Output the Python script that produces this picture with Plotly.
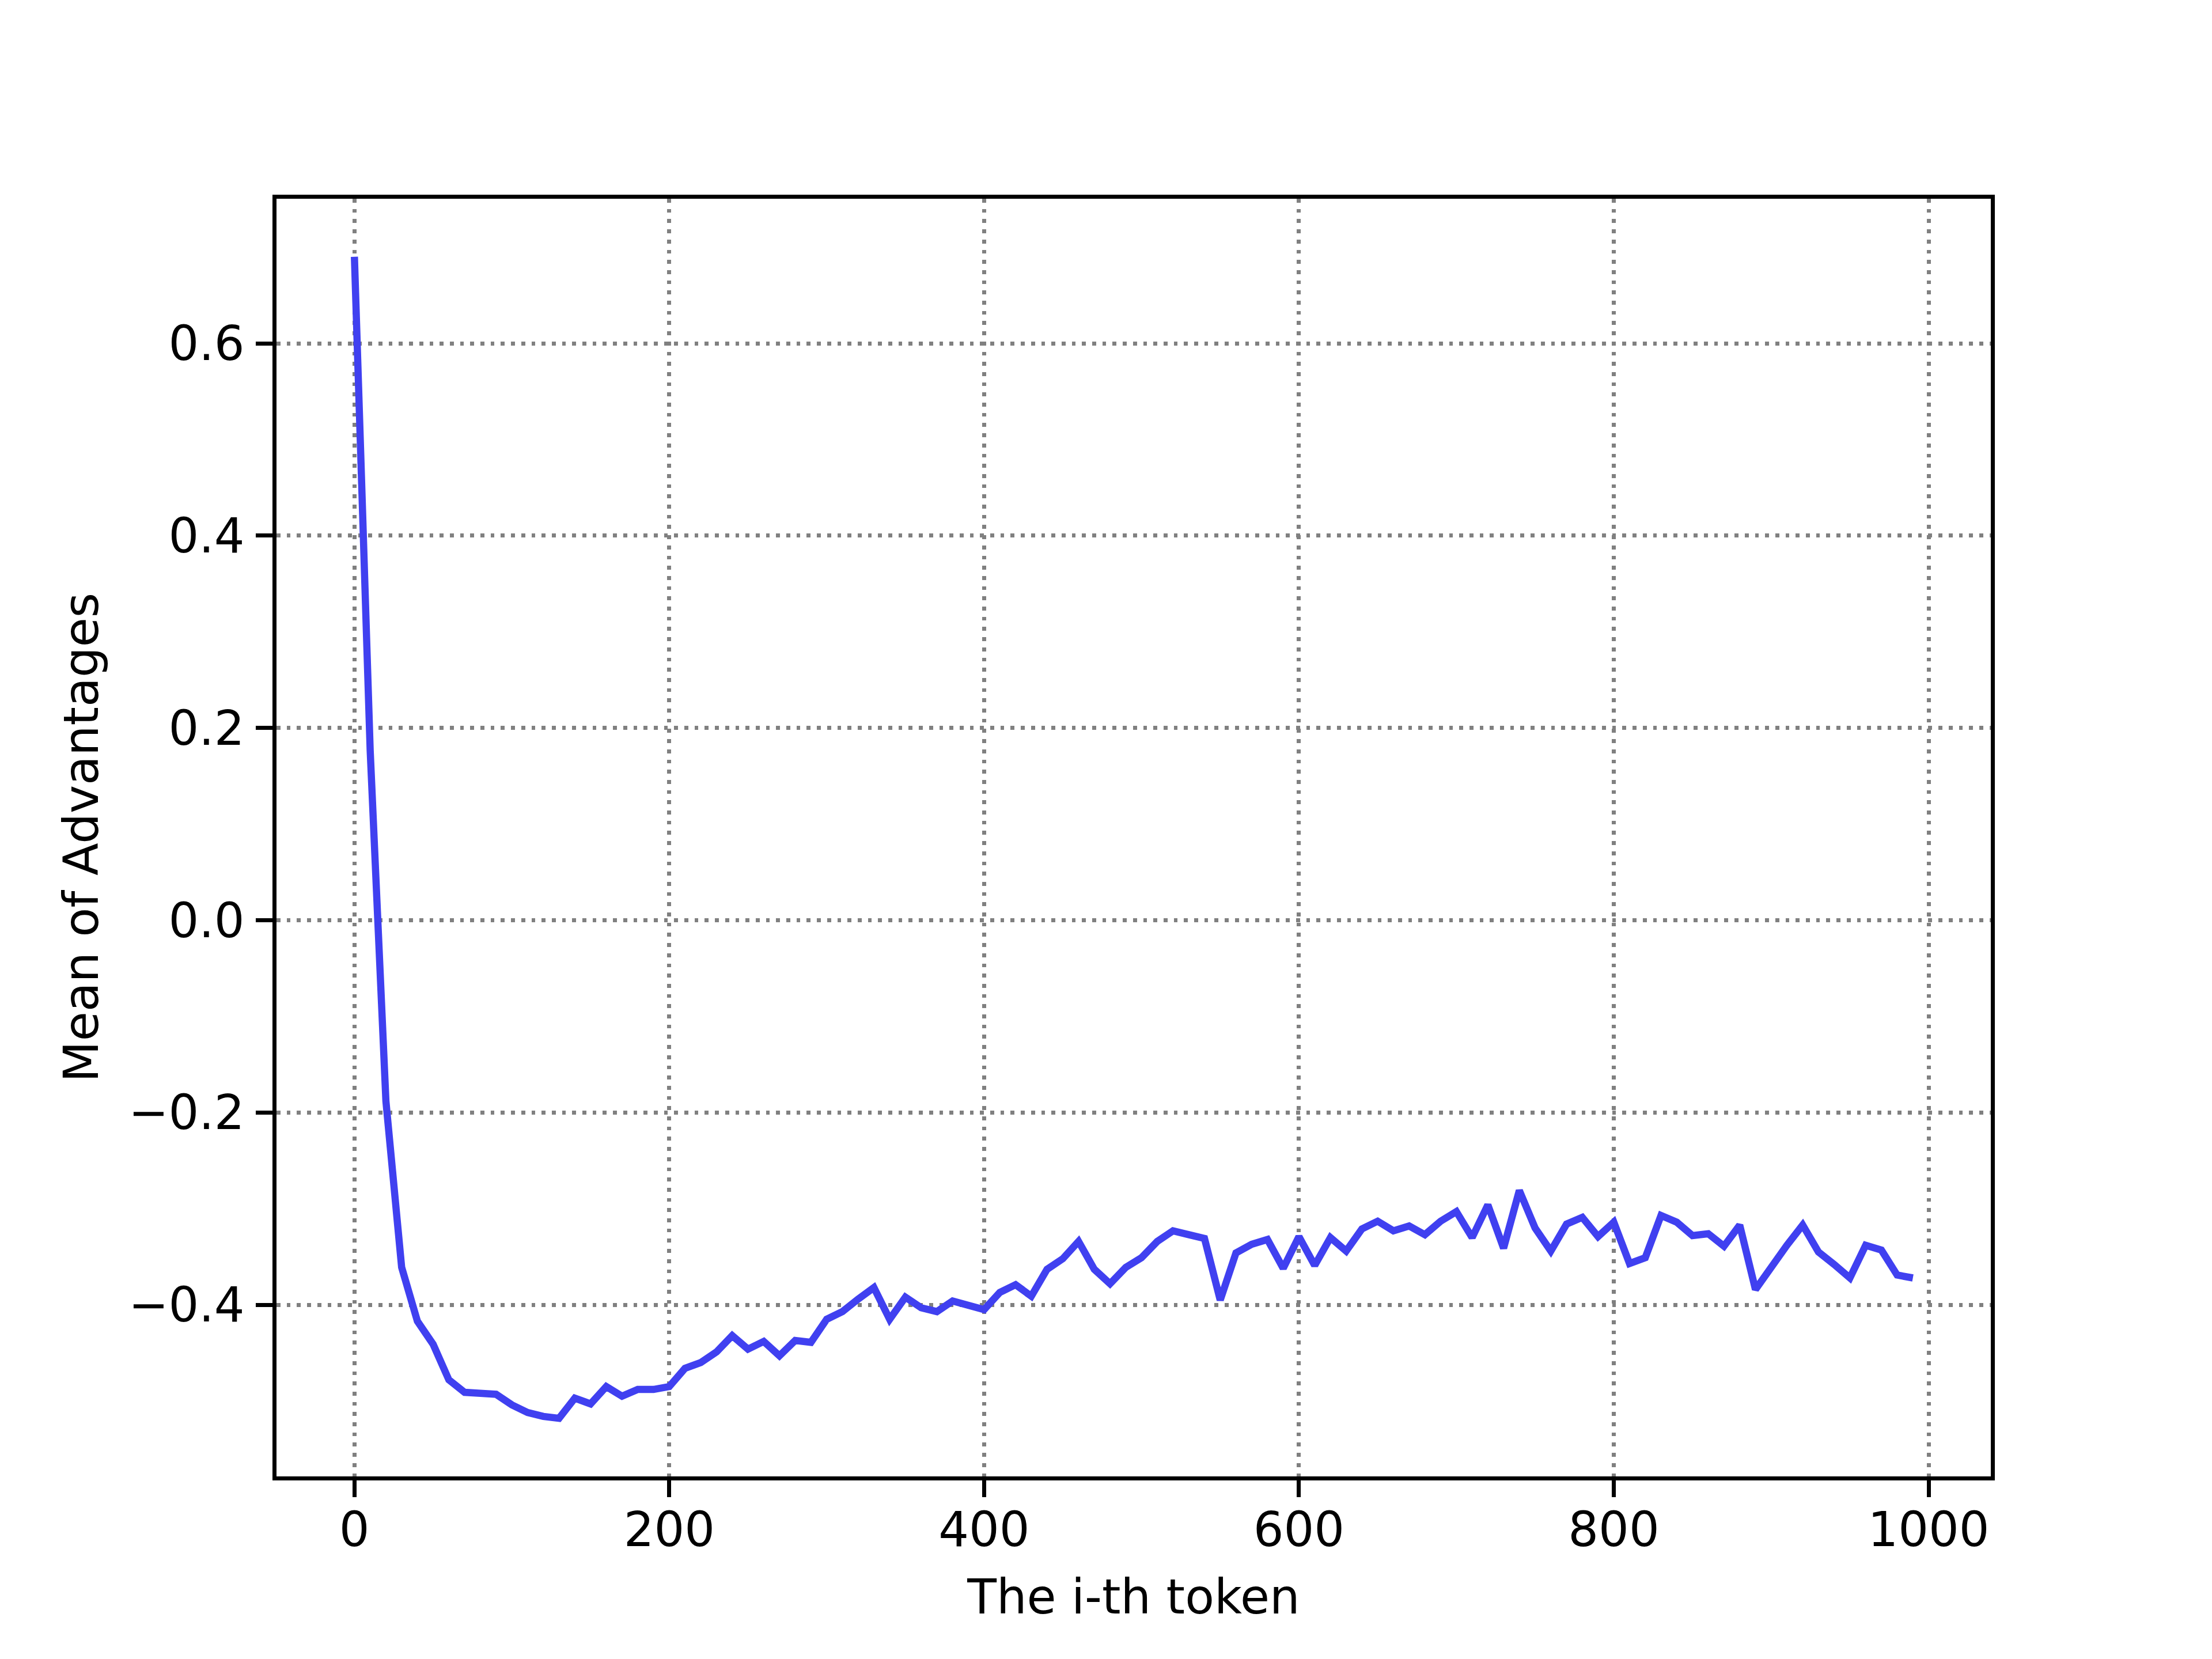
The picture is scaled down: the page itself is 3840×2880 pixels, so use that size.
import plotly.graph_objects as go

# token index (every 10th token) and mean advantage
tokens = list(range(0, 1000, 10))
mean_adv = [
    0.690, 0.177, -0.188, -0.361, -0.417, -0.441, -0.478, -0.491, -0.492, -0.493,
    -0.504, -0.512, -0.516, -0.518, -0.497, -0.503, -0.485, -0.495, -0.488, -0.488,
    -0.485, -0.466, -0.460, -0.449, -0.432, -0.446, -0.438, -0.453, -0.437, -0.439,
    -0.415, -0.407, -0.394, -0.382, -0.415, -0.392, -0.403, -0.407, -0.396, -0.401,
    -0.405, -0.387, -0.379, -0.391, -0.363, -0.352, -0.334, -0.363, -0.378, -0.361,
    -0.351, -0.334, -0.323, -0.327, -0.331, -0.395, -0.346, -0.337, -0.332, -0.362,
    -0.329, -0.359, -0.330, -0.344, -0.321, -0.313, -0.323, -0.318, -0.327, -0.313,
    -0.303, -0.330, -0.296, -0.341, -0.281, -0.320, -0.344, -0.316, -0.309, -0.329,
    -0.314, -0.357, -0.351, -0.307, -0.314, -0.328, -0.326, -0.339, -0.317, -0.384,
    -0.360, -0.338, -0.317, -0.345, -0.358, -0.372, -0.338, -0.343, -0.369, -0.372,
]

x_ticks = [0, 200, 400, 600, 800, 1000]
x_labels = ["0", "200", "400", "600", "800", "1000"]
y_ticks = [-0.4, -0.2, 0.0, 0.2, 0.4, 0.6]
y_labels = ["\u22120.4", "\u22120.2", "0.0", "0.2", "0.4", "0.6"]

FONT = "DejaVu Sans"
FS = 83
LW = 6.7

fig = go.Figure()
fig.add_trace(go.Scatter(x=tokens, y=mean_adv, mode="lines",
                         line=dict(color="#4040F0", width=12.5),
                         showlegend=False, hoverinfo="skip"))

axis_common = dict(
    showline=True, linewidth=LW, linecolor="black", mirror=True,
    ticks="outside", ticklen=29, tickwidth=LW, tickcolor="black",
    showgrid=True, gridcolor="#808080", gridwidth=LW, griddash="6.7px,11px",
    zeroline=False, tickfont=dict(family=FONT, size=FS, color="black"),
)

fig.update_xaxes(range=[-49.5, 1039.5], tickmode="array", tickvals=x_ticks, ticktext=x_labels,
                 title=dict(text="The i-th token", font=dict(family=FONT, size=FS, color="black"),
                            standoff=42),
                 ticklabelstandoff=-14, **axis_common)
fig.update_yaxes(range=[-0.5784, 0.7504], tickmode="array", tickvals=y_ticks, ticktext=y_labels,
                 title=dict(text="Mean of Advantages", font=dict(family=FONT, size=FS, color="black"),
                            standoff=27),
                 ticklabelstandoff=3, **axis_common)

# page body adds an 8px offset, so margins are trimmed to land the axes where they belong
fig.update_layout(width=3840, height=2880,
                  margin=dict(l=472, r=392, t=337, b=325, pad=0),
                  plot_bgcolor="white", paper_bgcolor="white",
                  font=dict(family=FONT, size=FS, color="black"))

fig.write_html("out.html")
